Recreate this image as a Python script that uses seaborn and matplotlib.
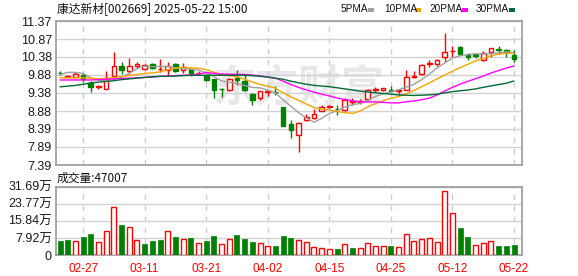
import numpy as np
import pandas as pd
import matplotlib
matplotlib.use('Agg')
import matplotlib.pyplot as plt
import seaborn as sns
from matplotlib.patches import Rectangle

# ---------------- data ----------------
dates = ['02-24', '02-25', '02-26', '02-27', '02-28', '03-03', '03-04', '03-05', '03-06', '03-07',
         '03-10', '03-11', '03-12', '03-13', '03-14', '03-17', '03-18', '03-19', '03-20', '03-21',
         '03-24', '03-25', '03-26', '03-27', '03-28', '03-31', '04-01', '04-02', '04-03', '04-07',
         '04-08', '04-09', '04-10', '04-11', '04-14', '04-15', '04-16', '04-17', '04-18', '04-21',
         '04-22', '04-23', '04-24', '04-25', '04-28', '04-29', '04-30', '05-06', '05-07', '05-08',
         '05-09', '05-12', '05-13', '05-14', '05-15', '05-16', '05-19', '05-20', '05-21', '05-22']

open_ = [9.94, 9.83, 9.83, 9.88, 9.66, 9.55, 9.49, 9.84, 10.14, 9.98,
         10.12, 10.04, 10.17, 10.03, 10.02, 10.19, 10.01, 10.04, 9.92, 9.88,
         9.78, 9.50, 9.47, 9.80, 9.72, 9.36, 9.24, 9.41, 9.42, 9.00,
         8.51, 8.23, 8.62, 8.68, 8.89, 8.99, 8.95, 8.90, 9.13, 9.14,
         9.22, 9.46, 9.45, 9.47, 9.43, 9.47, 9.81, 9.91, 10.19, 10.18,
         10.37, 10.53, 10.64, 10.42, 10.45, 10.28, 10.50, 10.60, 10.57, 10.44]
high = [9.98, 9.88, 9.95, 9.93, 9.70, 9.61, 10.00, 10.50, 10.23, 10.36,
        10.24, 10.17, 10.20, 10.33, 10.23, 10.20, 10.21, 10.07, 9.98, 9.88,
        9.78, 9.52, 9.80, 10.02, 9.91, 9.37, 9.44, 9.47, 9.57, 9.00,
        8.63, 8.57, 8.80, 8.94, 9.06, 9.05, 9.06, 9.24, 9.24, 9.22,
        9.50, 9.55, 9.53, 9.57, 9.50, 10.02, 9.98, 10.17, 10.28, 10.32,
        11.04, 10.69, 10.67, 10.49, 10.49, 10.55, 10.63, 10.67, 10.59, 10.56]
low = [9.88, 9.81, 9.83, 9.68, 9.40, 9.50, 9.49, 9.84, 9.91, 9.91,
       10.07, 10.01, 10.05, 9.95, 9.84, 9.95, 9.93, 9.86, 9.88, 9.71,
       9.24, 9.26, 9.43, 9.59, 9.43, 9.06, 9.20, 9.29, 9.32, 8.46,
       8.14, 7.75, 8.60, 8.66, 8.87, 8.97, 8.78, 8.89, 9.06, 9.08,
       9.20, 9.41, 9.43, 9.40, 9.33, 9.46, 9.80, 9.88, 10.10, 10.13,
       10.25, 10.37, 10.44, 10.28, 10.34, 10.27, 10.37, 10.47, 10.37, 10.25]
close = [9.93, 9.85, 9.91, 9.77, 9.55, 9.57, 9.80, 10.13, 10.01, 10.13,
         10.18, 10.16, 10.06, 10.05, 10.13, 9.98, 10.10, 9.93, 9.94, 9.75,
         9.45, 9.49, 9.77, 9.74, 9.47, 9.20, 9.43, 9.44, 9.40, 8.46,
         8.35, 8.54, 8.71, 8.81, 8.98, 9.03, 8.93, 9.18, 9.15, 9.17,
         9.45, 9.48, 9.52, 9.44, 9.46, 9.82, 9.86, 10.16, 10.22, 10.30,
         10.51, 10.55, 10.47, 10.38, 10.40, 10.49, 10.62, 10.57, 10.50, 10.33]
# volume in lots (手)
volume = [66900, 71500, 65400, 85400, 99300, 60700, 111600, 222600, 140900, 130100,
          70000, 53000, 66900, 71500, 111600, 85400, 74600, 80800, 56100, 66900,
          90000, 51500, 74600, 94600, 76100, 62300, 56100, 42200, 43800, 90000,
          80800, 70000, 60700, 37600, 33000, 28400, 29900, 51500, 34500, 33000,
          56100, 42200, 42200, 43800, 37600, 97700, 65400, 74600, 79200, 60700,
          298100, 194800, 127000, 85400, 46900, 56100, 65400, 43800, 43800, 47007]

# moving-average values for days before a full window exists
ma5_head = [9.89, 9.95, 9.95, 9.92]
ma10_head = [9.80, 9.80, 9.80, 9.80, 9.79, 9.77, 9.78, 9.81, 9.83]
ma20_head = [9.74, 9.74, 9.74, 9.74, 9.74, 9.75, 9.76, 9.77, 9.78, 9.79,
             9.80, 9.81, 9.82, 9.84, 9.85, 9.86, 9.87, 9.88, 9.90]
ma30_head = [9.55, 9.57, 9.59, 9.62, 9.66, 9.68, 9.70, 9.72, 9.75, 9.77,
             9.79, 9.81, 9.83, 9.84, 9.84, 9.85, 9.86, 9.87, 9.87, 9.87,
             9.87, 9.87, 9.87, 9.87, 9.87, 9.86, 9.84, 9.82, 9.79]

price_ticks = [11.37, 10.87, 10.38, 9.88, 9.38, 8.88, 8.39, 7.89, 7.39]
price_tick_labels = ['11.37', '10.87', '10.38', '9.88', '9.38', '8.88', '8.39', '7.89', '7.39']
vol_ticks = [0, 79200, 158400, 237700, 316900]
vol_tick_labels = ['0', '7.92万', '15.84万', '23.77万', '31.69万']
tick_dates = ['02-27', '03-11', '03-21', '04-02', '04-15', '04-25', '05-12', '05-22']

title_text = '康达新材[002669] 2025-05-22 15:00'
legend_labels = ['5PMA', '10PMA', '20PMA', '30PMA']

# ---------------- style ----------------
RED = '#FF0000'
GREEN = '#008000'
MA_COLORS = ['#A0A0A0', '#F5A400', '#FF00FF', '#006B35']
GRID = '#D2D2D2'
SPINE = '#9A9A9A'

sns.set_theme(style='white')
plt.rcParams['font.family'] = ['Liberation Sans', 'Noto Sans CJK SC']

W, H = 578, 276
fig = plt.figure(figsize=(W / 100, H / 100), dpi=100)
ax = fig.add_axes([56 / W, 111 / H, 466 / W, 144 / H])
axv = fig.add_axes([56 / W, 21 / H, 466 / W, 68.3 / H])

n = len(dates)
idx = np.arange(n)
o = np.array(open_)
c = np.array(close)
hi = np.array(high)
lo = np.array(low)
up = c >= o

# moving averages
cs = pd.Series(close)
mas = []
for win, head in [(5, ma5_head), (10, ma10_head), (20, ma20_head), (30, ma30_head)]:
    m = cs.rolling(win).mean().to_numpy()
    m[:win - 1] = head
    mas.append(m)

# watermark
ax.text(0.52, 0.53, '东方财富', transform=ax.transAxes, fontsize=31,
        color='#E8E8E8', ha='center', va='center', fontweight='bold',
        family=['Noto Sans CJK SC'], zorder=0.5, style='italic')

# candles
cols = [RED if u else GREEN for u in up]
ax.vlines(idx, lo, hi, colors=cols, linewidth=1, zorder=3)
body_h = np.maximum(np.abs(c - o), 0.004)
ax.bar(idx, body_h, bottom=np.minimum(o, c), width=0.6,
       color=['white' if u else GREEN for u in up], edgecolor=cols,
       linewidth=1, zorder=4)

# MA lines
for m, col in zip(mas, MA_COLORS):
    sns.lineplot(x=idx, y=m, color=col, linewidth=1, ax=ax, zorder=5)

xlim = (-0.52, -0.52 + 466 / 7.695)
tick_idx = [dates.index(d) for d in tick_dates]

ax.set_xlim(*xlim)
ax.set_ylim(price_ticks[-1], price_ticks[0])
ax.set_yticks(price_ticks)
ax.set_yticklabels(price_tick_labels)
ax.set_xticks(tick_idx)
ax.set_xticklabels([])

# volume bars
vol_dir = []
for i in range(n):
    if i == 0:
        vol_dir.append('up' if c[i] >= o[i] else 'down')
    else:
        vol_dir.append('up' if c[i] > c[i - 1] else 'down')
df = pd.DataFrame({'idx': idx, 'vol': volume, 'dir': vol_dir})
sns.barplot(data=df, x='idx', y='vol', hue='dir', palette={'up': RED, 'down': GREEN},
            native_scale=True, width=0.65, dodge=False, errorbar=None,
            saturation=1, legend=False, ax=axv, zorder=3)
for p in axv.patches:
    fc = p.get_facecolor()
    if fc[0] > 0.9 and fc[1] < 0.1:
        p.set_facecolor('white')
        p.set_edgecolor(RED)
        p.set_linewidth(1)
    else:
        p.set_edgecolor(GREEN)
        p.set_linewidth(0.5)

axv.set_xlim(*xlim)
axv.set_ylim(0, vol_ticks[-1])
axv.set_yticks(vol_ticks)
axv.set_yticklabels(vol_tick_labels)
axv.set_xticks(tick_idx)
axv.set_xticklabels(tick_dates)
axv.set_xlabel('')
axv.set_ylabel('')
ax.set_xlabel('')
ax.set_ylabel('')

for a in (ax, axv):
    a.set_axisbelow(True)
    a.yaxis.grid(True, color=GRID, linewidth=1, linestyle='-')
    a.xaxis.grid(True, color='#CDCDCD', linewidth=1, linestyle=(0, (4, 4)))
    for s in a.spines.values():
        s.set_visible(True)
        s.set_color(SPINE)
        s.set_linewidth(1.2)
    a.tick_params(axis='both', length=0, labelsize=9, colors='#1A1A1A')
    a.tick_params(axis='y', pad=3)
    a.set_facecolor('white')

axv.tick_params(axis='x', labelcolor=RED, labelsize=8.5, pad=6)

# header texts
fig.text(57 / W, 1 - 9.3 / H, title_text, fontsize=8.5, color='#111111',
         family=['Noto Sans CJK SC'], va='center', ha='left')
leg_x = [341, 384, 429, 476]
sq_x = [368, 415, 462, 509]
for lab, lx, sx, col in zip(legend_labels, leg_x, sq_x, MA_COLORS):
    fig.text(lx / W, 1 - 9.3 / H, lab, fontsize=7.2, color='#111111',
             va='center', ha='left')
    fig.patches.append(Rectangle((sx / W, 1 - 11.5 / H), 6 / W, 4 / H,
                                 transform=fig.transFigure, facecolor=col,
                                 edgecolor='none', figure=fig))
fig.text(57 / W, 1 - 178 / H, '成交量:' + str(volume[-1]), fontsize=8.5,
         color='#111111', family=['Noto Sans CJK SC'], va='center', ha='left')

fig.savefig('out.png', dpi=100, facecolor='white')
